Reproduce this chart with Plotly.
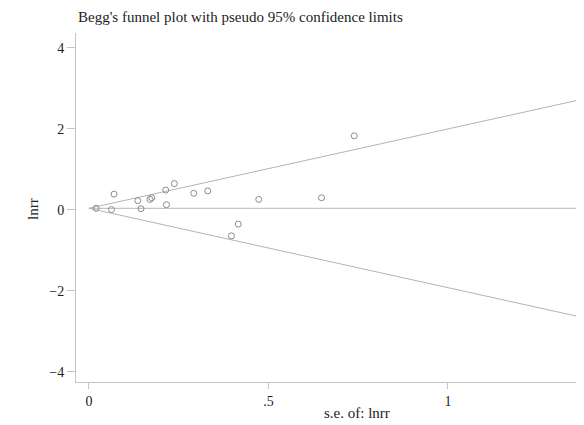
import plotly.graph_objects as go

# Study data
se_lnrr = [0.02, 0.063, 0.070, 0.136, 0.145, 0.170, 0.175, 0.214, 0.216, 0.238,
           0.292, 0.331, 0.397, 0.416, 0.473, 0.648, 0.739]
lnrr = [0.04, 0.01, 0.39, 0.23, 0.03, 0.26, 0.30, 0.49, 0.13, 0.65,
        0.41, 0.47, -0.64, -0.35, 0.26, 0.30, 1.83]
pooled = 0.04
se_line = [0.0, 1.6]
x_ticks = [0, 0.5, 1]
x_tick_labels = ["0", ".5", "1"]
y_ticks = [-4, -2, 0, 2, 4]
y_tick_labels = ["\u22124", "\u22122", "0", "2", "4"]

FONT = "Liberation Serif"
TXT = "#222222"

fig = go.Figure()
upper = [pooled + 1.96 * s for s in se_line]
lower = [pooled - 1.96 * s for s in se_line]
for yy in (upper, lower, [pooled, pooled]):
    fig.add_trace(go.Scatter(x=se_line, y=yy, mode="lines",
                             line=dict(color="#b4b4b4", width=1), hoverinfo="skip"))
fig.add_trace(go.Scatter(x=se_lnrr, y=lnrr, mode="markers",
                         marker=dict(symbol="circle-open", size=6,
                                     color="#8c8c8c", line=dict(width=1))))

axis_common = dict(showgrid=False, zeroline=False, showline=True, linecolor="#c4c4c4",
                   linewidth=1, ticks="outside", tickcolor="#c4c4c4",
                   tickfont=dict(family=FONT, size=14, color=TXT))

# page body has an 8px margin, so the figure is 8px smaller on each axis
fig.update_layout(
    width=576, height=417,
    margin=dict(l=68, r=0, t=25, b=43),
    paper_bgcolor="white", plot_bgcolor="white",
    showlegend=False,
    font=dict(family=FONT, size=14, color=TXT),
    xaxis=dict(range=[-0.036, 1.379], tickvals=x_ticks, ticktext=x_tick_labels,
               ticklen=6, **axis_common),
    yaxis=dict(range=[-4.25, 4.37], tickvals=y_ticks, ticktext=y_tick_labels,
               ticklen=8, **axis_common),
    annotations=[
        dict(text="Begg's funnel plot with pseudo 95% confidence limits",
             xref="paper", yref="paper", x=0.0, y=1.047, xanchor="left",
             yanchor="middle", showarrow=False, font=dict(family=FONT, size=15, color=TXT)),
        dict(text="lnrr", xref="paper", yref="paper", x=-0.0846, y=0.496,
             textangle=-90, xanchor="center", yanchor="middle", showarrow=False,
             font=dict(family=FONT, size=15, color=TXT)),
        dict(text="s.e. of: lnrr", xref="paper", yref="paper", x=0.553, y=-0.0888,
             xanchor="center", yanchor="middle", showarrow=False,
             font=dict(family=FONT, size=15, color=TXT)),
    ],
)

fig.write_html("out.html")
